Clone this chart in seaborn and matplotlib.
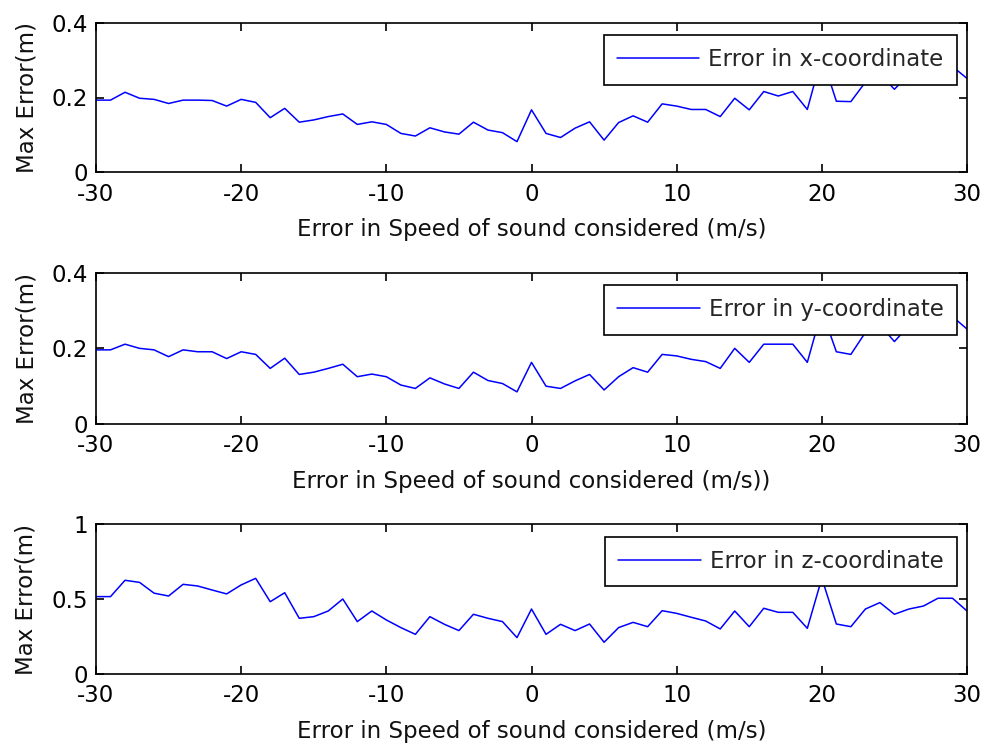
import matplotlib
matplotlib.use("Agg")
import matplotlib.pyplot as plt
import seaborn as sns
import pandas as pd

# Speed-of-sound error (m/s) and the resulting maximum localisation error (m)
speed_error = list(range(-30, 31))

err_x = [0.193, 0.193, 0.214, 0.198, 0.195, 0.184, 0.193, 0.193, 0.192, 0.177,
         0.195, 0.187, 0.146, 0.171, 0.134, 0.140, 0.149, 0.156, 0.128, 0.135,
         0.128, 0.104, 0.097, 0.119, 0.108, 0.102, 0.134, 0.113, 0.106, 0.082,
         0.167, 0.104, 0.093, 0.118, 0.135, 0.086, 0.133, 0.151, 0.134, 0.183,
         0.177, 0.168, 0.168, 0.149, 0.198, 0.167, 0.216, 0.204, 0.216, 0.168,
         0.310, 0.190, 0.189, 0.241, 0.263, 0.222, 0.262, 0.262, 0.270, 0.283,
         0.251]

err_y = [0.196, 0.196, 0.211, 0.200, 0.196, 0.178, 0.196, 0.191, 0.191, 0.173,
         0.191, 0.184, 0.147, 0.174, 0.131, 0.137, 0.147, 0.158, 0.125, 0.132,
         0.125, 0.103, 0.094, 0.122, 0.106, 0.094, 0.137, 0.115, 0.107, 0.085,
         0.163, 0.100, 0.094, 0.114, 0.131, 0.090, 0.125, 0.149, 0.137, 0.184,
         0.180, 0.171, 0.165, 0.147, 0.200, 0.163, 0.211, 0.211, 0.211, 0.163,
         0.300, 0.191, 0.184, 0.242, 0.262, 0.218, 0.260, 0.265, 0.270, 0.284,
         0.251]

err_z = [0.517, 0.517, 0.626, 0.612, 0.540, 0.521, 0.599, 0.588, 0.561, 0.535,
         0.595, 0.639, 0.483, 0.543, 0.372, 0.383, 0.421, 0.501, 0.350, 0.421,
         0.361, 0.310, 0.265, 0.383, 0.332, 0.290, 0.399, 0.372, 0.350, 0.243,
         0.434, 0.265, 0.332, 0.290, 0.334, 0.212, 0.310, 0.345, 0.316, 0.423,
         0.405, 0.379, 0.354, 0.301, 0.421, 0.316, 0.439, 0.412, 0.412, 0.305,
         0.640, 0.334, 0.316, 0.434, 0.477, 0.399, 0.434, 0.454, 0.506, 0.506,
         0.421]

series_labels = ["Error in x-coordinate", "Error in y-coordinate", "Error in z-coordinate"]
x_labels = ["Error in Speed of sound considered (m/s)",
            "Error in Speed of sound considered (m/s))",
            "Error in Speed of sound considered (m/s)"]
y_label = "Max Error(m)"
x_ticks = [-30, -20, -10, 0, 10, 20, 30]
y_ticks = [[0, 0.2, 0.4], [0, 0.2, 0.4], [0, 0.5, 1]]
y_tick_labels = [["0", "0.2", "0.4"], ["0", "0.2", "0.4"], ["0", "0.5", "1"]]
x_tick_labels = ["-30", "-20", "-10", "0", "10", "20", "30"]

sns.set_style("white")
plt.rcParams["font.family"] = ["DejaVu Sans"]
plt.rcParams["axes.unicode_minus"] = False

FS = 16.5
W, H = 982, 746
fig = plt.figure(figsize=(W / 100, H / 100), dpi=100)

# axes boxes in pixel coordinates: (left, top, right, bottom)
boxes = [(96, 22.7, 967, 172.3), (96, 272.7, 967, 424.0), (96, 524.3, 967, 674.0)]

frames = [
    pd.DataFrame({"speed": speed_error, "err": vals})
    for vals in (err_x, err_y, err_z)
]

for i, (df, box) in enumerate(zip(frames, boxes)):
    l, t, r, b = box
    ax = fig.add_axes([l / W, 1 - b / H, (r - l) / W, (b - t) / H])
    sns.lineplot(data=df, x="speed", y="err", ax=ax, color="#0000ff",
                 linewidth=1.1, label=series_labels[i])
    ax.set_xlim(-30, 30)
    ax.set_ylim(y_ticks[i][0], y_ticks[i][-1])
    ax.set_xticks(x_ticks)
    ax.set_xticklabels(x_tick_labels)
    ax.set_yticks(y_ticks[i])
    ax.set_yticklabels(y_tick_labels[i])
    ax.tick_params(axis="both", which="both", direction="in", length=5.5,
                   width=1.2, colors="black", labelsize=FS,
                   top=True, right=True, bottom=True, left=True)
    ax.tick_params(axis="x", pad=7.5)
    ax.tick_params(axis="y", pad=5.5)
    ax.set_xlabel(x_labels[i], fontsize=FS, labelpad=9, color="#111111")
    ax.set_ylabel(y_label, fontsize=FS, labelpad=10, color="#111111")
    for s in ax.spines.values():
        s.set_color("black")
        s.set_linewidth(1.2)
        s.set_visible(True)
    leg = ax.legend(loc="upper right",
                    bbox_to_anchor=((957 - l) / (r - l), (b - (t + 12.5)) / (b - t)),
                    borderaxespad=0, fontsize=FS, frameon=True, fancybox=False,
                    handlelength=3.6, handletextpad=0.4, borderpad=0.58,
                    framealpha=1.0)
    leg.get_frame().set_edgecolor("black")
    leg.get_frame().set_linewidth(1.2)
    leg.get_frame().set_facecolor("white")

fig.savefig("out.png", dpi=100, facecolor="white")
